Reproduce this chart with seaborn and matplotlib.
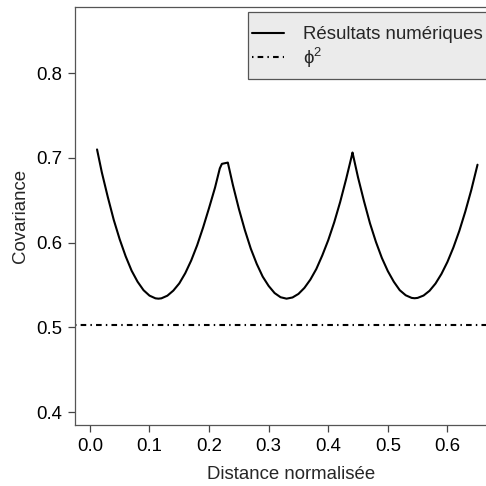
import matplotlib
matplotlib.use("Agg")
import matplotlib.pyplot as plt
import matplotlib.patches as mpatches
import seaborn as sns
import pandas as pd

# ---- data ----
distance = [0.012, 0.02, 0.03, 0.04, 0.05, 0.06, 0.07, 0.08, 0.09, 0.10, 0.11, 0.115,
            0.12, 0.13, 0.14, 0.15, 0.16, 0.17, 0.18, 0.19, 0.20, 0.21, 0.218, 0.2215, 0.2315,
            0.24, 0.25, 0.26, 0.27, 0.28, 0.29, 0.30, 0.31, 0.32, 0.33,
            0.34, 0.35, 0.36, 0.37, 0.38, 0.39, 0.40, 0.41, 0.42, 0.43, 0.44, 0.4407,
            0.45, 0.46, 0.47, 0.48, 0.49, 0.50, 0.51, 0.52, 0.53, 0.54, 0.545,
            0.55, 0.56, 0.57, 0.58, 0.59, 0.60, 0.61, 0.62, 0.63, 0.64, 0.65, 0.6505]
covariance = [0.710, 0.683, 0.654, 0.627, 0.604, 0.584, 0.567, 0.554, 0.544, 0.5376, 0.5344, 0.534,
              0.5344, 0.5375, 0.5435, 0.552, 0.564, 0.579, 0.597, 0.618, 0.641, 0.665, 0.6876, 0.693, 0.6945,
              0.668, 0.640, 0.615, 0.593, 0.575, 0.560, 0.549, 0.5406, 0.5357, 0.534,
              0.5354, 0.5396, 0.5467, 0.5565, 0.569, 0.585, 0.603, 0.624, 0.648, 0.675, 0.704, 0.7064,
              0.677, 0.649, 0.623, 0.601, 0.582, 0.5665, 0.554, 0.544, 0.538, 0.5349, 0.5345,
              0.5349, 0.5377, 0.5433, 0.5518, 0.5632, 0.5773, 0.5943, 0.614, 0.6367, 0.662, 0.6905, 0.692]
phi2 = 0.5025

x_ticks = [0.0, 0.1, 0.2, 0.3, 0.4, 0.5, 0.6]
y_ticks = [0.4, 0.5, 0.6, 0.7, 0.8]
x_label = "Distance normalisée"
y_label = "Covariance"
series_label = "Résultats numériques"
phi_label = r"$\mathrm{\phi}^{2}$"

sns.set_style("white")
plt.rcParams["font.family"] = ["Liberation Sans", "DejaVu Sans"]
plt.rcParams["mathtext.fontset"] = "custom"
plt.rcParams["mathtext.rm"] = "Liberation Sans"
plt.rcParams["mathtext.it"] = "Liberation Sans"
plt.rcParams["mathtext.default"] = "regular"

FS = 13.4
fig = plt.figure(figsize=(4.86, 4.86), dpi=100)
fig.patch.set_facecolor("white")
# axes extends past the right edge of the figure (as in the reference crop)
ax = fig.add_axes([75 / 486, 61 / 486, 432 / 486, 418 / 486])
ax.set_facecolor("white")

df = pd.DataFrame({"distance": distance, "covariance": covariance})
sns.lineplot(data=df, x="distance", y="covariance", ax=ax, color="black",
             linewidth=1.5, sort=False, label=series_label, legend=False)
for ln in ax.lines:
    ln.set_solid_joinstyle("round")
    ln.set_solid_capstyle("round")
ax.axhline(phi2, color="black", linewidth=1.5, dashes=(0.7, 2.0, 2.7, 2.0),
           label=phi_label)

ax.set_xlim(-0.025, 0.70)
ax.set_ylim(0.385, 0.878)
ax.set_xticks(x_ticks)
ax.set_yticks(y_ticks)
ax.set_xticklabels([f"{v:.1f}" for v in x_ticks])
ax.set_yticklabels([f"{v:.1f}" for v in y_ticks])
ax.tick_params(axis="both", direction="out", length=5, width=0.9, color="#444444",
               labelsize=FS, pad=4, labelcolor="black", bottom=True, left=True)
for s in ax.spines.values():
    s.set_color("#555555")
    s.set_linewidth(0.9)

ax.set_xlabel(x_label, fontsize=FS, labelpad=8)
ax.set_ylabel(y_label, fontsize=FS, labelpad=5)

# legend frame (R-style grey box running off the right edge)
frame = mpatches.Rectangle((0.400, 0.828), 0.70, 0.160, transform=ax.transAxes,
                           facecolor="#ebebeb", edgecolor="#555555", linewidth=0.9,
                           clip_on=False, zorder=4)
ax.add_patch(frame)
leg = ax.legend(loc="upper left", bbox_to_anchor=(0.400, 0.964), fontsize=FS,
                frameon=False, handlelength=1.7, handletextpad=1.05,
                borderpad=0.22, labelspacing=0.13, borderaxespad=0)
leg.set_zorder(5)

fig.savefig("out.png", dpi=100)
